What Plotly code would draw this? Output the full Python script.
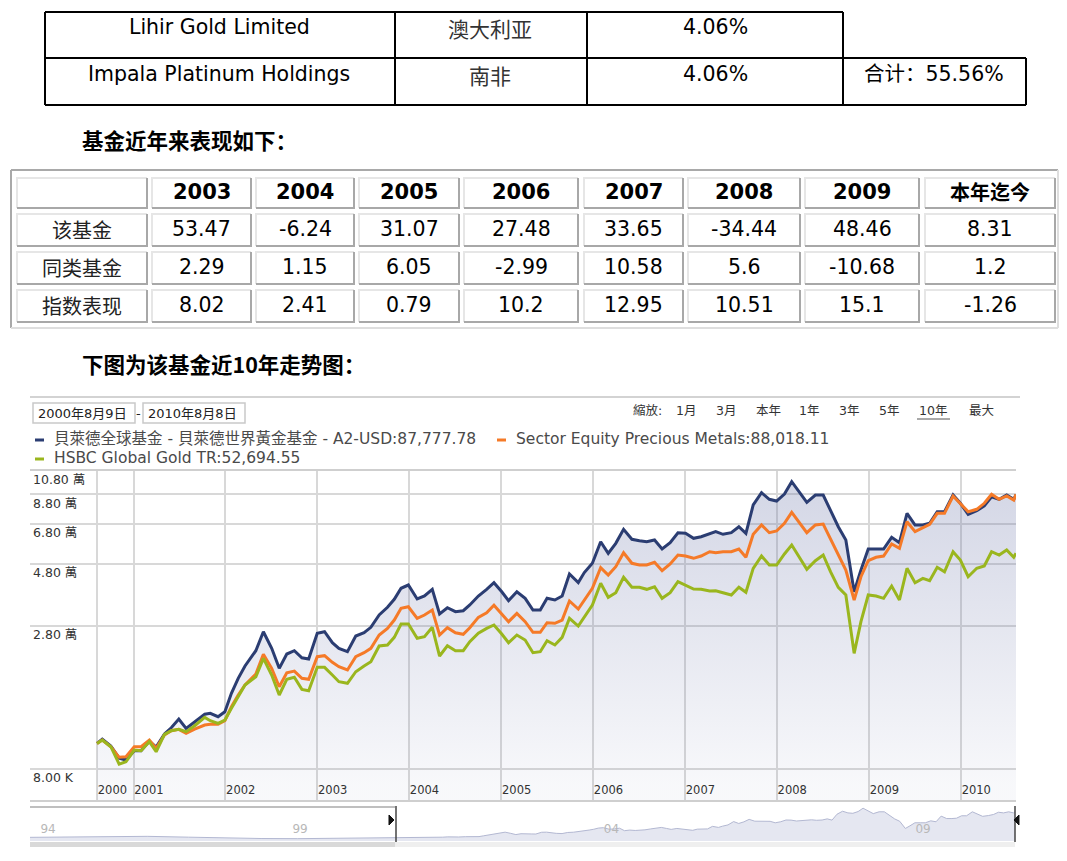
import math
import pandas as pd
import plotly.graph_objects as go

W, H = 1067, 861
def px(x): return x / W
def py(y): return 1 - y / H

LAT = "DejaVu Sans, Noto Sans CJK SC, sans-serif"
CJK = "Noto Sans CJK SC, DejaVu Sans, sans-serif"

# ---------------- data ----------------
holding_names = ["Lihir Gold Limited", "Impala Platinum Holdings"]
holding_countries = ["澳大利亚", "南非"]
holding_weights = ["4.06%", "4.06%"]
holding_total = "合计：55.56%"

perf_years = ["2003", "2004", "2005", "2006", "2007", "2008", "2009", "本年迄今"]
perf_rows = ["该基金", "同类基金", "指数表现"]
fund_returns = [53.47, -6.24, 31.07, 27.48, 33.65, -34.44, 48.46, 8.31]
peer_returns = [2.29, 1.15, 6.05, -2.99, 10.58, 5.6, -10.68, 1.2]
index_returns = [8.02, 2.41, 0.79, 10.2, 12.95, 10.51, 15.1, -1.26]

series_names = ["貝萊德全球基金 - 貝萊德世界黃金基金 - A2-USD",
                "Sector Equity Precious Metals",
                "HSBC Global Gold TR"]
series_colors = ["#2b3d72", "#f57a28", "#9ab61e"]

dates = [
    "2000-08-09", "2000-08-30", "2000-10-03", "2000-11-05", "2000-12-02",
    "2001-01-04", "2001-01-31", "2001-03-05", "2001-04-01", "2001-05-04",
    "2001-05-31", "2001-06-30", "2001-07-29", "2001-09-01", "2001-10-11",
    "2001-11-02", "2001-12-03", "2001-12-30", "2002-01-25", "2002-02-21",
    "2002-03-20", "2002-05-02", "2002-06-01", "2002-07-04", "2002-08-03",
    "2002-09-02", "2002-10-02", "2002-11-01", "2002-11-28", "2003-01-01",
    "2003-01-30", "2003-03-02", "2003-03-28", "2003-05-01", "2003-06-03",
    "2003-07-06", "2003-08-02", "2003-09-04", "2003-10-07", "2003-11-03",
    "2003-11-30", "2003-12-29", "2004-02-02", "2004-03-02", "2004-04-02",
    "2004-05-01", "2004-06-01", "2004-07-03", "2004-08-03", "2004-08-29",
    "2004-10-02", "2004-11-04", "2004-12-03", "2005-01-03", "2005-01-30",
    "2005-03-04", "2005-04-06", "2005-05-07", "2005-06-05", "2005-07-02",
    "2005-08-02", "2005-08-31", "2005-09-29", "2005-11-03", "2005-11-27",
    "2005-12-29", "2006-01-31", "2006-03-02", "2006-04-01", "2006-05-02",
    "2006-06-04", "2006-07-04", "2006-08-02", "2006-09-02", "2006-10-02",
    "2006-11-03", "2006-12-04", "2007-01-03", "2007-02-04", "2007-03-06",
    "2007-04-09", "2007-05-03", "2007-06-01", "2007-07-04", "2007-08-03",
    "2007-08-31", "2007-09-29", "2007-11-01", "2007-12-02", "2007-12-31",
    "2008-01-31", "2008-02-29", "2008-04-29", "2008-06-02", "2008-07-03",
    "2008-08-01", "2008-09-01", "2008-10-01", "2008-11-03", "2008-11-30",
    "2008-12-29", "2009-01-29", "2009-02-28", "2009-04-01", "2009-05-02",
    "2009-06-01", "2009-07-03", "2009-08-03", "2009-08-30", "2009-09-29",
    "2009-10-28", "2009-12-01", "2009-12-30", "2010-01-30", "2010-03-05",
    "2010-04-04", "2010-05-03", "2010-06-02", "2010-07-02", "2010-07-30",
    "2010-08-08",
]

fund_values = [
    10000, 10390, 9780, 8800, 8650, 9380, 9380, 10210, 9690, 10860,
    11470, 12380, 11410, 12030, 12900, 13010, 12630, 13190, 15490, 17660,
    19670, 22480, 26530, 22950, 19270, 21840, 22480, 21140, 20910, 26170,
    26530, 24100, 22950, 22280, 25560, 26300, 27570, 30700, 32840, 35210,
    38770, 39900, 35310, 36250, 38430, 30970, 32720, 31600, 31880, 33510,
    36250, 38430, 40710, 37630, 34790, 37630, 35520, 32070, 32070, 35520,
    35000, 36250, 43920, 40780, 44500, 48230, 58240, 52630, 57430, 64900,
    59470, 58750, 58240, 59110, 54640, 57730, 63000, 62670, 60000, 60840,
    62670, 63560, 62130, 63000, 66390, 62670, 80250, 89350, 84350, 83100,
    88340, 98360, 82170, 87580, 87580, 76820, 66390, 59110, 37630, 45490,
    54640, 54640, 54640, 60520, 57730, 74640, 67390, 67390, 68390, 75690,
    75690, 87580, 81450, 73990, 76360, 79560, 86280, 84350, 87580, 84350,
    87777.78,
]

sector_values = [
    10000, 10300, 9720, 8860, 8900, 9720, 9720, 10300, 9580, 10760,
    11180, 11310, 10920, 11340, 11750, 11820, 11820, 12200, 13780, 15270,
    16660, 18340, 21780, 19270, 16410, 18550, 18820, 17660, 17510, 21330,
    21520, 20310, 19550, 18990, 21330, 22090, 22950, 25780, 27330, 29390,
    32550, 33010, 29830, 30700, 32070, 25780, 27480, 26300, 25940, 27480,
    30090, 31320, 33420, 30890, 28960, 31160, 28960, 26400, 26400, 28710,
    28560, 29390, 34700, 32350, 34850, 38770, 46410, 43540, 46820, 52910,
    48230, 47520, 47520, 48650, 45210, 47930, 51850, 51400, 50380, 51400,
    53370, 52910, 53370, 53370, 54640, 50820, 62130, 67390, 63000, 63950,
    68390, 75290, 63000, 67390, 67980, 60000, 51850, 45490, 35000, 42900,
    49340, 50820, 51400, 57080, 54980, 69360, 63560, 66050, 67800, 74640,
    74640, 86820, 81450, 75690, 77290, 81450, 88110, 84350, 86820, 83830,
    88018.11,
]

index_values = [
    10000, 10300, 9720, 8350, 8520, 9440, 9380, 10150, 9300, 10830,
    11180, 11310, 11080, 11670, 12560, 12200, 11920, 12270, 13590, 15040,
    16660, 17910, 21030, 18180, 15270, 17510, 17820, 16040, 15850, 19440,
    19440, 18180, 17150, 16910, 18710, 19670, 20420, 23420, 23630, 25270,
    28380, 28380, 25050, 25400, 27570, 21460, 23480, 22480, 22480, 24320,
    26170, 27330, 28140, 26010, 24100, 25780, 24680, 22090, 22280, 24530,
    23630, 25270, 29830, 27890, 30040, 33510, 40500, 35840, 37300, 42680,
    39110, 39110, 38430, 39310, 35520, 37300, 41070, 39900, 38530, 38430,
    37860, 37960, 37300, 36560, 39110, 37440, 46170, 51400, 47520, 47520,
    52310, 56590, 45760, 49340, 51850, 44810, 39110, 36560, 21970, 28960,
    36560, 36250, 35520, 39550, 35000, 46170, 40710, 42300, 41430, 46570,
    44810, 53370, 49640, 42900, 46170, 47100, 53370, 51850, 54170, 50820,
    52694.55,
]

y_tick_values = [8000, 28000, 48000, 68000, 88000, 108000]
y_tick_labels = ["8.00 K", "2.80 萬", "4.80 萬", "6.80 萬", "8.80 萬", "10.80 萬"]
x_tick_values = ["2000-08-09", "2001-01-01", "2002-01-01", "2003-01-01", "2004-01-01",
                 "2005-01-01", "2006-01-01", "2007-01-01", "2008-01-01", "2009-01-01",
                 "2010-01-01"]
x_tick_labels = ["2000", "2001", "2002", "2003", "2004", "2005", "2006", "2007",
                 "2008", "2009", "2010"]

zoom_labels = ["縮放:", "1月", "3月", "本年", "1年", "3年", "5年", "10年", "最大"]

nav_pre_dates = ["1994-10-15", "1995-06-01", "1996-02-01", "1996-09-01", "1997-05-01",
                 "1997-12-01", "1998-07-01", "1999-02-01", "1999-09-01", "2000-04-01"]
nav_pre_values = [11000, 12000, 15000, 14000, 11500, 8500, 7500, 7000, 8000, 9000]
nav_tick_values = ["1994-12-15", "1999-01-01", "2004-01-01", "2009-01-01"]
nav_tick_labels = ["94", "99", "04", "09"]

# ---------------- helpers ----------------
shapes = []
anns = []

def line(x0, y0, x1, y1, color, width):
    shapes.append(dict(type="line", xref="paper", yref="paper",
                       x0=px(x0), y0=py(y0), x1=px(x1), y1=py(y1),
                       line=dict(color=color, width=width), layer="above"))

def path(points, color, width, fill=None, closed=False):
    d = "M " + " L ".join(f"{px(x):.5f},{py(y):.5f}" for x, y in points)
    if closed:
        d += " Z"
    shapes.append(dict(type="path", xref="paper", yref="paper", path=d,
                       line=dict(color=color, width=width),
                       fillcolor=fill if fill else "rgba(0,0,0,0)", layer="above"))

def rect(x0, y0, x1, y1, color, width, fill=None, layer="above"):
    shapes.append(dict(type="rect", xref="paper", yref="paper",
                       x0=px(x0), y0=py(y1), x1=px(x1), y1=py(y0),
                       line=dict(color=color, width=width),
                       fillcolor=fill if fill else "rgba(0,0,0,0)", layer=layer))

def text(x, y, s, size, color="#000", family=LAT, xanchor="center", yanchor="middle"):
    anns.append(dict(x=px(x), y=py(y), xref="paper", yref="paper", text=s,
                     showarrow=False, xanchor=xanchor, yanchor=yanchor,
                     font=dict(size=size, color=color, family=family)))

# ---------------- table 1 ----------------
line(45, 12, 843, 12, "#000", 2)
line(45, 58, 1026, 58, "#000", 2)
line(45, 105, 1026, 105, "#000", 2)
for xv in [45, 395, 587, 843]:
    line(xv, 12, xv, 105, "#000", 2)
line(1026, 58, 1026, 105, "#000", 2)
row_y = [27, 74]
for i in range(2):
    text(219, row_y[i], holding_names[i], 20.5, "#000")
    text(490, row_y[i] + 1, holding_countries[i], 21, "#333", CJK)
    text(715, row_y[i], holding_weights[i], 20.5, "#000")
text(934, 74, holding_total, 20.5, "#000")

text(80, 139, "<b>基金近年来表现如下：</b>", 21.5, "#000", CJK, xanchor="left")

# ---------------- table 2 ----------------
line(11, 170, 1058, 170, "#a9a9a9", 2)
line(11, 170, 11, 328, "#a9a9a9", 2)
line(11, 328, 1058, 328, "#dedede", 2)
line(1058, 170, 1058, 328, "#dedede", 2)
cols = [(17, 147), (152, 251), (256, 354), (359, 459), (464, 578),
        (584, 683), (688, 800), (805, 919), (925, 1055)]
rows = [(178, 208), (214, 246), (252, 284), (290, 322)]
for (y0, y1) in rows:
    for (x0, x1) in cols:
        path([(x0, y1), (x0, y0), (x1, y0)], "#e6e6e6", 2)
        path([(x1, y0), (x1, y1), (x0, y1)], "#a8a8a8", 2)

def cx(c): return (cols[c][0] + cols[c][1]) / 2
def cy(r): return (rows[r][0] + rows[r][1]) / 2

for j, yr in enumerate(perf_years):
    if yr.isdigit():
        text(cx(j + 1), cy(0) - 1, f"<b>{yr}</b>", 21, "#000", LAT)
    else:
        text(cx(j + 1), cy(0) - 1, f"<b>{yr}</b>", 20, "#000", CJK)
for r, (lab, vals) in enumerate(zip(perf_rows, [fund_returns, peer_returns, index_returns])):
    text(cx(0), cy(r + 1) - 1, lab, 20, "#222", CJK)
    for j, v in enumerate(vals):
        text(cx(j + 1), cy(r + 1) - 1, str(v), 20.5, "#000", LAT)

text(80, 363, "<b>下图为该基金近10年走势图：</b>", 21.5, "#000", CJK, xanchor="left")

# ---------------- chart header ----------------
line(30, 397, 1020, 397, "#c4c4c4", 1.5)
d0 = pd.Timestamp(dates[0]); d1 = pd.Timestamp(dates[-1])
rect(33, 403, 135, 423, "#c9c9c9", 1.5)
text(36, 413, f"{d0.year}年{d0.month}月{d0.day}日", 13, "#222", LAT, xanchor="left")
text(138.5, 413, "-", 13, "#222")
rect(143, 403, 245, 423, "#c9c9c9", 1.5)
text(146, 413, f"{d1.year}年{d1.month}月{d1.day}日", 13, "#222", LAT, xanchor="left")

zoom_x = [631, 674, 714, 754, 797, 837, 877, 917, 967]
for lab, xv in zip(zoom_labels, zoom_x):
    text(xv, 410, lab, 12.5, "#333", LAT, xanchor="left")
line(917, 419, 950, 419, "#555", 1)

# legend
finals = [fund_values[-1], sector_values[-1], index_values[-1]]
leg_pos = [(35, 440), (497, 440), (35, 459)]
for name, val, col, (lx, ly) in zip(series_names, finals, series_colors, leg_pos):
    line(lx, ly, lx + 9, ly, col, 3)
    text(lx + 17, ly - 1, f"{name}:{val:,.2f}", 15.5, "#4a4a4a", LAT, xanchor="left")

# ---------------- main chart ----------------
X0, X1, XD = 30, 1016, 97
start = pd.Timestamp(dates[0]); end = pd.Timestamp(dates[-1])
day_px = (X1 - XD) / (end - start).days
left = start - pd.Timedelta(days=(XD - X0) / day_px)

y_top = math.log10(108000)
y_bot = math.log10(8000) - (800 - 769) * (y_top - math.log10(8000)) / (769 - 471)

fig = go.Figure()
fig.add_trace(go.Scatter(
    x=dates, y=fund_values, mode="lines", name=series_names[0],
    line=dict(color=series_colors[0], width=3), fill="tozeroy",
    fillgradient=dict(type="vertical", start=7000, stop=max(fund_values),
                      colorscale=[[0, "rgba(110,120,170,0.05)"], [1, "rgba(110,120,170,0.30)"]]),
    hoverinfo="skip"))
fig.add_trace(go.Scatter(
    x=dates, y=sector_values, mode="lines", name=series_names[1],
    line=dict(color=series_colors[1], width=3), hoverinfo="skip"))
fig.add_trace(go.Scatter(
    x=dates, y=index_values, mode="lines", name=series_names[2],
    line=dict(color=series_colors[2], width=3), hoverinfo="skip"))

# navigator
nav_x = nav_pre_dates + dates
nav_y = nav_pre_values + fund_values
fig.add_trace(go.Scatter(
    x=nav_x, y=nav_y, mode="lines", xaxis="x2", yaxis="y2",
    line=dict(color="#b3b8d2", width=1), fill="tozeroy",
    fillcolor="rgba(160,168,205,0.28)", hoverinfo="skip"))

fig.update_layout(
    width=W, height=H, autosize=False,
    margin=dict(l=0, r=0, t=0, b=0),
    paper_bgcolor="white", plot_bgcolor="rgba(0,0,0,0)",
    showlegend=False,
    font=dict(family=LAT, color="#333"),
    xaxis=dict(
        domain=[px(X0), px(X1)], type="date",
        range=[left.strftime("%Y-%m-%d %H:%M"), dates[-1]],
        tickmode="array", tickvals=x_tick_values, ticktext=x_tick_labels,
        ticklabelposition="inside right", ticks="", tickangle=0,
        tickfont=dict(size=11.5, color="#333", family=LAT),
        showgrid=True, gridcolor="#d8d8d8", gridwidth=1.5,
        showline=True, linecolor="#cfcfcf", linewidth=1.5, mirror=True,
        zeroline=False, fixedrange=True,
    ),
    yaxis=dict(
        domain=[py(800), py(471)], type="log", range=[y_bot, y_top],
        tickmode="array", tickvals=y_tick_values, ticktext=y_tick_labels,
        ticklabelposition="inside bottom", ticks="",
        tickfont=dict(size=12.5, color="#333", family=LAT),
        showgrid=True, gridcolor="#d8d8d8", gridwidth=1.5,
        showline=False, zeroline=False, fixedrange=True,
    ),
    xaxis2=dict(
        domain=[px(30), px(1015)], anchor="y2", type="date",
        range=[nav_pre_dates[0], dates[-1]],
        tickmode="array", tickvals=nav_tick_values, ticktext=nav_tick_labels,
        ticklabelposition="inside right", ticks="", tickangle=0,
        tickfont=dict(size=12, color="#b8b8b8", family=LAT),
        showgrid=False, showline=False, zeroline=False, fixedrange=True,
    ),
    yaxis2=dict(
        domain=[py(841), py(806)], anchor="x2", range=[0, 105000],
        visible=False, fixedrange=True,
    ),
)

# navigator frame
line(30, 807, 395, 807, "#aaaaaa", 1.5)
rect(30, 842, 395, 847, "rgba(0,0,0,0)", 0, fill="#d9d9d9")
rect(395, 842, 1015, 847, "rgba(0,0,0,0)", 0, fill="#efefef")
line(396, 806, 396, 842, "#444", 1.5)
line(1015, 806, 1015, 842, "#444", 1.5)
path([(389, 815), (394, 820), (389, 825)], "#111", 1, fill="#111", closed=True)
path([(1019, 815), (1014, 820), (1019, 825)], "#111", 1, fill="#111", closed=True)

fig.update_layout(shapes=shapes, annotations=anns)

fig.write_html("out.html", config={"displayModeBar": False},
               post_script="document.body.style.margin='0';")
